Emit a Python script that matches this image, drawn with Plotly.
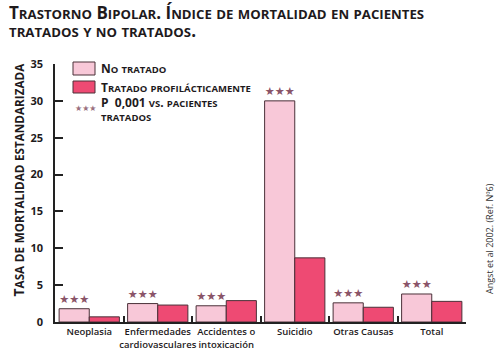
import plotly.graph_objects as go

categories = ["Neoplasia", "Enfermedades<br>cardiovasculares", "Accidentes o<br>intoxicación",
              "Suicidio", "Otras Causas", "Total"]
no_tratado = [1.8, 2.5, 2.2, 30.0, 2.6, 3.8]
tratado = [0.7, 2.3, 2.9, 8.7, 2.0, 2.8]
stars = ["★★★"] * len(categories)
y_ticks = [0, 5, 10, 15, 20, 25, 30, 35]

C_LIGHT = "#F8C8D8"
C_DARK = "#EE4A73"
C_EDGE = "#4a3038"
C_STAR = "#8a5468"
C_TEXT = "#1e1a1c"
FONT = "Open Sans"


def small_caps(text, small_px):
    """Emulate small caps: capitals stay at base size, lowercase become smaller capitals."""
    out = []
    run = ""
    mode = None
    for ch in text:
        is_small = ch.islower()
        if mode is None:
            mode = is_small
        if is_small != mode:
            out.append((mode, run))
            run = ""
            mode = is_small
        run += ch
    if run:
        out.append((mode, run))
    parts = []
    for is_small, r in out:
        if is_small:
            parts.append(f"<span style='font-size:{small_px}px'>{r.upper()}</span>")
        else:
            parts.append(r)
    return "".join(parts)


fig = go.Figure()
fig.add_trace(go.Bar(
    x=categories, y=no_tratado, name="No tratado",
    marker=dict(color=C_LIGHT, line=dict(color=C_EDGE, width=1)),
    text=stars, textposition="outside", cliponaxis=False,
    textfont=dict(color=C_STAR, size=12, family="DejaVu Sans"),
))
fig.add_trace(go.Bar(
    x=categories, y=tratado, name="Tratado profilácticamente",
    marker=dict(color=C_DARK, line=dict(color=C_EDGE, width=1)),
))

fig.update_layout(
    width=500, height=359,
    paper_bgcolor="white", plot_bgcolor="white",
    margin=dict(l=55, r=34, t=64, b=37, autoexpand=False),
    barmode="group", bargap=0.12, bargroupgap=0,
    showlegend=False,
    font=dict(family=FONT, color=C_TEXT),
    xaxis=dict(
        type="category", showline=True, linecolor="#222", linewidth=1.5,
        ticks="inside", tickson="boundaries", ticklen=6, tickcolor="#222", tickwidth=1.5,
        tickfont=dict(size=9.5, family=FONT, weight=600, color=C_TEXT),
        tickangle=0, automargin=False,
        showgrid=False, zeroline=False, fixedrange=True,
    ),
    yaxis=dict(
        range=[0, 35], tickvals=y_ticks, showline=True, linecolor="#222", linewidth=1.5,
        ticks="inside", ticklen=8, tickcolor="#222", tickwidth=1.5,
        tickfont=dict(size=11, family=FONT, weight="bold", color=C_TEXT),
        ticklabelstandoff=8, automargin=False,
        showgrid=False, zeroline=False, fixedrange=True,
    ),
)

W, H = 500, 359
L, R, T, B = 55, 34, 64, 37
pw, ph = W - L - R, H - T - B


def px(x):
    return (x - L) / pw


def py(y):
    return (H - B - y) / ph


def note(x, y, text, **kw):
    fig.add_annotation(x=px(x), y=py(y), xref="paper", yref="paper", text=text,
                       showarrow=False, **kw)


# Title (small caps); offsets compensate for mixed-size span layout
TITLE_FONT = dict(size=17, family=FONT, weight="bold", color=C_TEXT)
note(7, -1.5, small_caps("Trastorno Bipolar. Índice de mortalidad en pacientes", 13.2),
     xanchor="left", font=TITLE_FONT)
note(7, 17, small_caps("tratados y no tratados.", 13.2), xanchor="left", font=TITLE_FONT)

# Y axis title
note(6, 180, small_caps("Tasa de mortalidad estandarizada", 11.7), textangle=-90,
     font=dict(size=14, family=FONT, weight="bold", color=C_TEXT))

# Source
note(498, 296, "Angst et al 2002. (Ref. Nº6)", textangle=-90,
     font=dict(size=9, family=FONT, color="#333"))

# Legend (manual)
fig.add_shape(type="rect", x0=px(73), x1=px(95), y0=py(62), y1=py(75), xref="paper", yref="paper",
              fillcolor=C_LIGHT, line=dict(color=C_EDGE, width=1))
fig.add_shape(type="rect", x0=px(73), x1=px(95), y0=py(81), y1=py(93), xref="paper", yref="paper",
              fillcolor=C_DARK, line=dict(color=C_EDGE, width=1))
LEG_FONT = dict(size=12, family=FONT, weight="bold", color=C_TEXT)
note(99, 58, small_caps("No tratado", 9.5), xanchor="left", font=LEG_FONT)
note(99, 77, small_caps("Tratado profilácticamente", 9.5), xanchor="left", font=LEG_FONT)
note(73, 102, "★★★", xanchor="left", font=dict(size=8, family="DejaVu Sans", color="#9a7080"))
note(99, 92, small_caps("P  0,001 vs. pacientes", 9.5), xanchor="left", font=LEG_FONT)
note(99, 109, small_caps("tratados", 9.5), xanchor="left", font=LEG_FONT)

fig.write_html("out.html", post_script="document.body.style.margin='0';",
               config={"displayModeBar": False})
